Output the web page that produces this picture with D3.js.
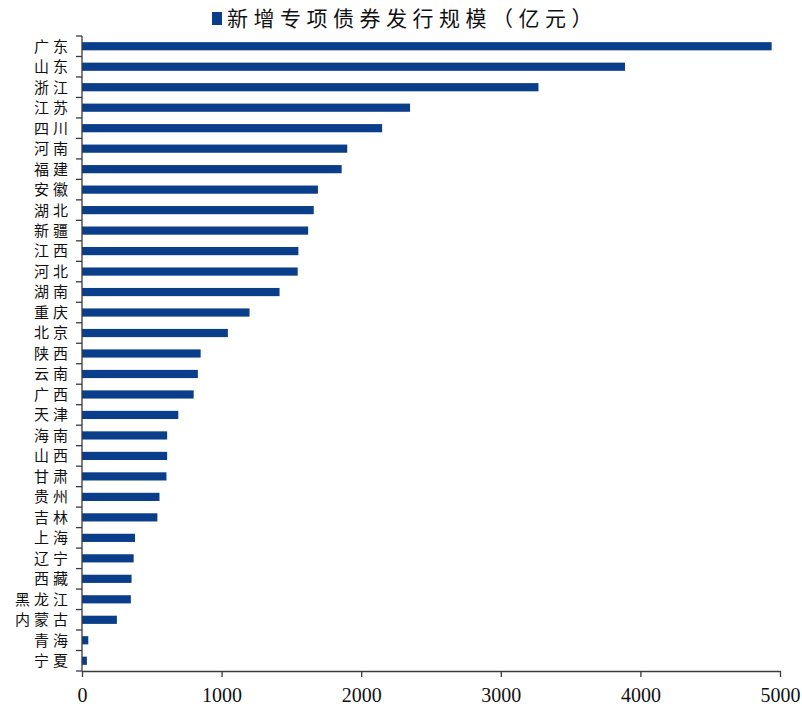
<!DOCTYPE html>
<html>
<head>
<meta charset="utf-8">
<script src="https://cdn.jsdelivr.net/npm/d3@7"></script>
<style>
  html, body { margin: 0; padding: 0; background: #fff; }
  svg { display: block; }
</style>
</head>
<body>
<svg id="chart" width="802" height="713"></svg>
<script>
// Provinces, top to bottom
const provinces = ["广东","山东","浙江","江苏","四川","河南","福建","安徽","湖北","新疆",
  "江西","河北","湖南","重庆","北京","陕西","云南","广西","天津","海南",
  "山西","甘肃","贵州","吉林","上海","辽宁","西藏","黑龙江","内蒙古","青海","宁夏"];
// New special bond issuance, 亿元
const issuance = [4940,3890,3270,2350,2150,1900,1860,1690,1660,1620,
  1550,1545,1415,1200,1045,850,830,800,690,610,
  610,605,555,540,380,370,355,350,250,45,35];
const xTicks = [0,1000,2000,3000,4000,5000];
const titleText = "新增专项债券发行规模（亿元）";

const barColor = "#0b3e8a";
const axisColor = "#3a3a3a";

const svg = d3.select("#chart");
const margin = {left: 82, right: 22, top: 36, bottom: 42};
const W = 802, H = 713;

const x = d3.scaleLinear().domain([0, 5000]).range([margin.left, W - margin.right]);
const y = d3.scaleBand().domain(provinces)
  .range([margin.top, H - margin.bottom]).paddingInner(0.6).paddingOuter(0.3);

// bars
svg.append("g").selectAll("rect").data(provinces).join("rect")
  .attr("x", x(0))
  .attr("y", d => y(d))
  .attr("width", (d, i) => x(issuance[i]) - x(0))
  .attr("height", y.bandwidth())
  .attr("fill", barColor);

// x axis
const xAxis = svg.append("g")
  .attr("transform", `translate(0,${H - margin.bottom})`)
  .call(d3.axisBottom(x).tickValues(xTicks).tickFormat(d3.format("d"))
    .tickSize(6).tickSizeOuter(0).tickPadding(11));
xAxis.select(".domain").attr("stroke", axisColor).attr("stroke-width", 1.3);
xAxis.selectAll(".tick line").attr("stroke", axisColor).attr("stroke-width", 1.3);
xAxis.selectAll(".tick text")
  .attr("fill", "#111")
  .style("font-family", "'Liberation Serif', 'DejaVu Serif', serif")
  .style("font-size", "20px");

// y axis: ticks mark category boundaries on the left side
const yTop = margin.top, yBot = H - margin.bottom;
const boundaries = d3.range(provinces.length + 1).map(i => yTop + i * (yBot - yTop) / provinces.length);
const yAxisG = svg.append("g");
yAxisG.append("line")
  .attr("x1", x(0)).attr("x2", x(0))
  .attr("y1", yTop).attr("y2", yBot)
  .attr("stroke", axisColor).attr("stroke-width", 1.3);
yAxisG.selectAll("line.tk").data(boundaries).join("line")
  .attr("class", "tk")
  .attr("x1", x(0) - 6).attr("x2", x(0))
  .attr("y1", d => d).attr("y2", d => d)
  .attr("stroke", axisColor).attr("stroke-width", 1.3);

// category labels
const ls = 4;
yAxisG.selectAll("text").data(provinces).join("text")
  .attr("x", x(0) - 14 + ls)
  .attr("y", d => y(d) + y.bandwidth() / 2)
  .attr("dy", "0.36em")
  .attr("text-anchor", "end")
  .attr("fill", "#111")
  .style("font-family", "'Noto Sans CJK SC', sans-serif")
  .style("font-size", "15px")
  .style("letter-spacing", ls + "px")
  .text(d => d);

// title with legend swatch
svg.append("rect")
  .attr("x", 212).attr("y", 12).attr("width", 10).attr("height", 13)
  .attr("fill", barColor);
svg.append("text")
  .attr("x", 227).attr("y", 26)
  .attr("fill", "#111")
  .style("font-family", "'Noto Sans CJK SC', sans-serif")
  .style("font-size", "21px")
  .style("letter-spacing", "5.5px")
  .text(titleText);
</script>
</body>
</html>
